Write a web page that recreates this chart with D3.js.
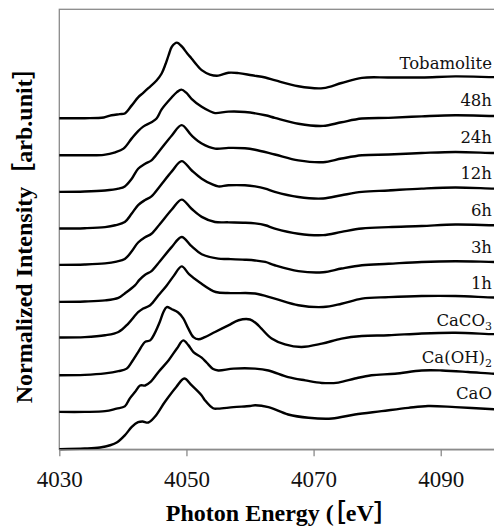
<!DOCTYPE html>
<html>
<head>
<meta charset="utf-8">
<script src="https://cdn.jsdelivr.net/npm/d3@7"></script>
<style>
  html, body { margin: 0; padding: 0; background: #fff; }
  #container { width: 494px; height: 526px; overflow: hidden; }
</style>
</head>
<body>
<div id="container"></div>
<script>
// Ca K-edge XANES, stacked spectra (bottom to top)
const tickEnergies = [4030, 4050, 4070, 4090];

// [photon energy (eV), normalized intensity]
const cao = [[4030,0],[4034,0.02],[4036.4,0.05],[4038,0.11],[4039.1,0.19],[4040.3,0.38],[4041.4,0.61],[4042.4,0.74],[4043.1,0.76],[4044,0.73],[4045,0.88],[4046.6,1.29],[4048.4,1.7],[4049.66,1.93],[4050.8,1.75],[4052.4,1.47],[4052.9,1.34],[4054.2,1.12],[4055,1.11],[4057.4,1.15],[4060,1.18],[4060.8,1.2],[4062.9,1.15],[4066,0.95],[4069.2,0.86],[4072.9,0.84],[4076.5,0.95],[4080.7,1.04],[4084.9,1.13],[4088,1.18],[4092.3,1.15],[4098.4,1.09],[4100,1.08]];
const caoh2 = [[4030,0.02],[4034,0.02],[4037.2,0.04],[4039,0.11],[4040.3,0.17],[4041.1,0.39],[4041.9,0.56],[4042.7,0.74],[4043.5,0.74],[4044.3,0.83],[4045.6,1.11],[4047.2,1.43],[4048.5,1.75],[4049.5,1.97],[4050.3,1.84],[4051.1,1.65],[4052.4,1.5],[4053.2,1.36],[4054.2,1.19],[4055,1.15],[4057.4,1.2],[4060.8,1.2],[4062.9,1.15],[4066,0.97],[4068.7,0.88],[4071.3,0.81],[4073.9,0.82],[4076.5,0.93],[4079.1,1.02],[4082.8,1.06],[4087,1.15],[4090.2,1.15],[4094.3,1.11],[4098.4,1.06],[4100,1.05]];
const caco3 = [[4030,0.02],[4034,0.03],[4037.2,0.07],[4039.3,0.13],[4040.6,0.2],[4041.4,0.38],[4042.4,0.65],[4043.5,0.93],[4044.3,0.97],[4045,1.16],[4045.8,1.47],[4046.4,1.75],[4046.9,1.88],[4047.7,1.82],[4048.7,1.73],[4049.5,1.57],[4050.3,1.29],[4051.1,1.06],[4051.9,1.0],[4052.9,1.06],[4054.5,1.2],[4056.6,1.38],[4058.2,1.52],[4060,1.54],[4061,1.43],[4061.8,1.29],[4063.4,1.02],[4065.5,0.86],[4068.1,0.79],[4071.3,0.88],[4074.4,1.02],[4077.6,1.09],[4081.8,1.11],[4087,1.16],[4092.3,1.18],[4098.4,1.14],[4100,1.14]];
const h1 = [[4030,0.05],[4034,0.06],[4037.2,0.11],[4039.3,0.2],[4040.85,0.43],[4042.4,0.74],[4043.2,0.84],[4044.3,0.93],[4045.6,1.2],[4046.9,1.47],[4048,1.73],[4049.25,1.99],[4050.4,1.78],[4052.1,1.55],[4054.6,1.29],[4057,1.26],[4060.8,1.25],[4063.9,1.11],[4067.6,0.93],[4071.5,0.88],[4074.4,0.97],[4077.6,1.11],[4081.8,1.15],[4087,1.18],[4092.3,1.18],[4098.4,1.14],[4100,1.14]];
const h3 = [[4030,0.02],[4034,0.03],[4037.2,0.06],[4039.3,0.13],[4040.3,0.25],[4041.9,0.47],[4042.6,0.62],[4043.5,0.76],[4044.5,0.86],[4045.8,1.12],[4047.7,1.52],[4049.25,1.79],[4050.8,1.54],[4052.4,1.32],[4055,1.2],[4056.6,1.19],[4059.2,1.17],[4060.8,1.15],[4062.4,1.11],[4063.9,1.02],[4067.6,0.86],[4071.5,0.83],[4074.4,0.93],[4077.6,1.02],[4081.8,1.06],[4087,1.11],[4092.3,1.13],[4098.4,1.11],[4100,1.11]];
const h6 = [[4030,0.03],[4034,0.04],[4037.2,0.07],[4039,0.12],[4040.3,0.19],[4041.4,0.4],[4042.4,0.64],[4043.5,0.78],[4044.5,0.88],[4045.8,1.14],[4047.7,1.54],[4049.25,1.81],[4050.8,1.56],[4052.4,1.34],[4054.5,1.2],[4056.6,1.19],[4059.2,1.18],[4060.8,1.16],[4062.4,1.11],[4063.9,1.02],[4067.6,0.88],[4071.5,0.84],[4074.4,0.93],[4077.6,1.02],[4081.8,1.06],[4087,1.09],[4092.3,1.13],[4098.4,1.11],[4100,1.11]];
const h12 = [[4030,0.02],[4034,0.03],[4037.2,0.06],[4038.8,0.11],[4040.3,0.2],[4041.4,0.43],[4042.4,0.66],[4043.5,0.8],[4044.5,0.9],[4045.8,1.17],[4047.7,1.58],[4049.25,1.86],[4050.8,1.61],[4052.4,1.38],[4054,1.23],[4055,1.17],[4056.6,1.2],[4059.2,1.2],[4060.8,1.17],[4062.4,1.11],[4063.9,1.02],[4067.6,0.88],[4071.5,0.84],[4074.4,0.93],[4077.6,1.02],[4081.8,1.06],[4087,1.11],[4092.3,1.14],[4098.4,1.11],[4100,1.11]];
const h24 = [[4030,0.02],[4034,0.03],[4037.2,0.06],[4039.3,0.11],[4040.3,0.17],[4041.4,0.38],[4042.4,0.65],[4043.5,0.79],[4044.5,0.88],[4045.8,1.15],[4047.7,1.56],[4049.25,1.84],[4050.8,1.56],[4052.4,1.34],[4054.5,1.2],[4056.6,1.22],[4059.2,1.21],[4060.8,1.17],[4063.9,1.04],[4067.6,0.88],[4071.5,0.83],[4074.4,0.93],[4077.6,1.02],[4081.8,1.04],[4087,1.08],[4092.3,1.11],[4098.4,1.08],[4100,1.08]];
const h48 = [[4030,0.02],[4034,0.02],[4037,0.03],[4038.8,0.1],[4040.1,0.2],[4041.4,0.48],[4042.4,0.68],[4043.2,0.8],[4044.5,0.92],[4045.3,1.02],[4046.1,1.27],[4047.7,1.6],[4048.5,1.74],[4049.2,1.81],[4050,1.72],[4050.8,1.56],[4052.4,1.34],[4053.7,1.22],[4054.5,1.17],[4056.6,1.21],[4059.2,1.2],[4062.4,1.11],[4063.9,1.04],[4067.6,0.88],[4071.5,0.82],[4074.4,0.92],[4077.6,1.02],[4081.8,1.04],[4087,1.08],[4092.3,1.11],[4098.4,1.09],[4100,1.09]];
const tobamolite = [[4030,0.03],[4034,0.03],[4037,0.05],[4038.2,0.11],[4039.5,0.14],[4040.3,0.16],[4041.4,0.38],[4042.4,0.6],[4043.2,0.72],[4044,0.85],[4045.3,1.06],[4046.1,1.25],[4046.7,1.5],[4047.2,1.75],[4047.7,1.98],[4048.5,2.09],[4049.3,1.98],[4050.1,1.8],[4050.8,1.66],[4051.6,1.49],[4052.4,1.34],[4053.7,1.22],[4055,1.19],[4056.6,1.27],[4058.2,1.26],[4060.3,1.2],[4062.4,1.14],[4064,1.06],[4067.6,0.9],[4071.5,0.85],[4074.4,0.99],[4077.6,1.13],[4081.8,1.14],[4087,1.14],[4092.3,1.17],[4098.4,1.15],[4100,1.15]];

// label text + subscript, stacked bottom to top
const labelMain = ["CaO", "Ca(OH)", "CaCO", "1h", "3h", "6h", "12h", "24h", "48h", "Tobamolite"];
const labelSub  = ["", "2", "3", "", "", "", "", "", "", ""];
const spectra = [cao, caoh2, caco3, h1, h3, h6, h12, h24, h48, tobamolite];

const width = 494, height = 526;
const svg = d3.select("#container").append("svg")
  .attr("width", width).attr("height", height);

const x = d3.scaleLinear().domain([4030, 4100]).range([59.3, 504.3]);
const y = d3.scaleLinear().domain([0, 12]).range([449.3, 9.3]);

const axisColor = "#8a8a8a";

// frame: left + top (right edge falls outside the window)
svg.append("rect")
  .attr("x", x(4030)).attr("y", y(12))
  .attr("width", x(4100) - x(4030)).attr("height", y(0) - y(12))
  .attr("fill", "none").attr("stroke", axisColor).attr("stroke-width", 1.3);

// --- spectra ---
const line = d3.line()
  .x(d => x(d[0]))
  .y(d => y(d[1]))
  .curve(d3.curveCatmullRom.alpha(0.5));

spectra.forEach((s, i) => {
  svg.append("path")
    .datum(s.map(d => [d[0], d[1] + i]))
    .attr("d", line)
    .attr("fill", "none")
    .attr("stroke", "#000")
    .attr("stroke-width", 2.4)
    .attr("stroke-linejoin", "round");
});

// --- labels ---
spectra.forEach((s, i) => {
  const txt = svg.append("text")
    .attr("x", 492).attr("y", y(i + 1.36))
    .attr("text-anchor", "end")
    .attr("fill", "#111")
    .style("font-family", "'DejaVu Serif', serif")
    .style("font-size", "16.5px")
    .text(labelMain[i]);
  if (labelSub[i]) {
    txt.append("tspan")
      .attr("dy", 4)
      .style("font-size", "11px")
      .text(labelSub[i]);
  }
});

// --- x axis ---
const xAxis = svg.append("g")
  .attr("transform", `translate(0,${y(0)})`)
  .call(d3.axisBottom(x).tickValues(tickEnergies).tickFormat(d3.format("d"))
    .tickSize(7).tickSizeOuter(0).tickPadding(14));
xAxis.select(".domain").attr("stroke", axisColor).attr("stroke-width", 1.3);
xAxis.selectAll("line").attr("stroke", axisColor).attr("stroke-width", 1.3);
xAxis.selectAll("text")
  .attr("fill", "#111")
  .style("font-family", "'Liberation Serif', serif")
  .style("font-size", "23px");

// --- axis titles ---
const titleFont = "'Liberation Serif', 'Noto Sans CJK JP', serif";
svg.append("text")
  .attr("x", (x(4030) + x(4100)) / 2).attr("y", 521)
  .attr("text-anchor", "middle")
  .style("font-family", titleFont)
  .style("font-size", "24px").style("font-weight", "bold")
  .text("Photon Energy (［eV］");

svg.append("text")
  .attr("transform", "rotate(-90)")
  .attr("x", -(y(0) + y(12)) / 2).attr("y", 32)
  .attr("text-anchor", "middle")
  .style("font-family", titleFont)
  .style("font-size", "24px").style("font-weight", "bold")
  .text("Normalized Intensity［arb.unit］");
</script>
</body>
</html>
